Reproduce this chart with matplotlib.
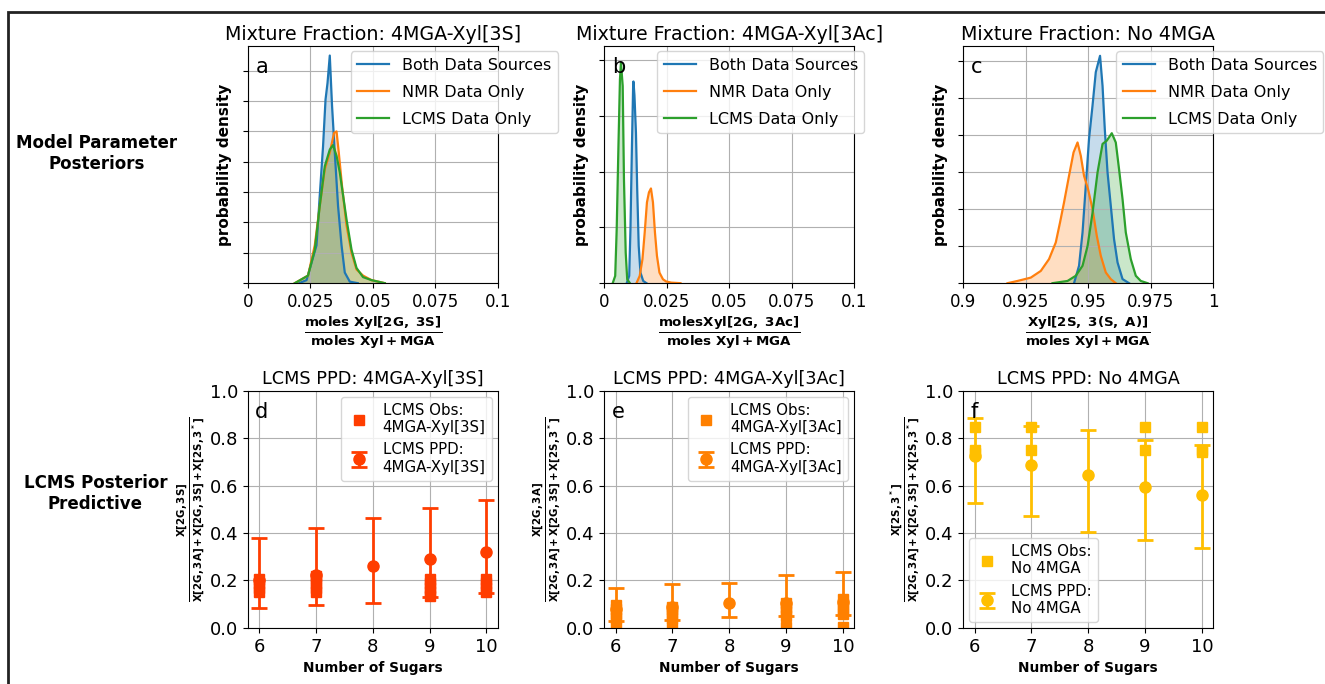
import numpy as np
import matplotlib.pyplot as plt
from matplotlib.patches import Rectangle

# ---- top row: posterior densities ----
a_both_x = [0.0205, 0.0235, 0.0275, 0.0288, 0.0301, 0.0311, 0.0319, 0.0328, 0.0337, 0.0348, 0.0361, 0.0375, 0.0388, 0.0408, 0.044]
a_both_y = [0, 2, 25, 58, 90, 121, 132, 150, 117, 86, 51, 25, 7, 1, 0]
a_nmr_x = [0.0188, 0.0241, 0.0268, 0.0288, 0.0308, 0.0328, 0.0345, 0.0355, 0.0364, 0.0377, 0.0395, 0.0415, 0.0435, 0.0461, 0.0495, 0.0548]
a_nmr_y = [0, 5, 25, 51, 75, 86, 99, 100, 86, 64, 38, 20, 9, 5, 2, 0]
a_lcms_x = [0.0188, 0.0241, 0.0268, 0.0288, 0.0308, 0.0328, 0.0341, 0.0355, 0.0368, 0.0381, 0.0395, 0.0415, 0.0435, 0.0461, 0.0495, 0.0548]
a_lcms_y = [0, 5, 22, 51, 77, 88, 91, 84, 73, 58, 42, 22, 10, 4, 2, 0]

b_both_x = [0.009, 0.010, 0.0105, 0.0111, 0.0116, 0.0117, 0.0121, 0.0127, 0.0132, 0.0138, 0.0145, 0.0156, 0.0169]
b_both_y = [0, 13, 97, 247, 360, 362, 337, 270, 169, 67, 19, 4, 0]
b_nmr_x = [0.0129, 0.0142, 0.0153, 0.0162, 0.0171, 0.0179, 0.0187, 0.0195, 0.0203, 0.0211, 0.0221, 0.0235, 0.0248, 0.0268, 0.0305]
b_nmr_y = [0, 13, 43, 91, 145, 163, 170, 145, 91, 49, 19, 7, 3, 1, 0]
b_lcms_x = [0.0034, 0.0044, 0.0050, 0.0057, 0.0063, 0.0067, 0.0074, 0.0079, 0.0086, 0.0092, 0.0103]
b_lcms_y = [0, 13, 97, 247, 366, 396, 354, 187, 55, 7, 0]

c_both_x = [0.9443, 0.9463, 0.9477, 0.949, 0.9503, 0.9517, 0.953, 0.9547, 0.9557, 0.9566, 0.9577, 0.959, 0.9603, 0.9617, 0.9637, 0.9663]
c_both_y = [0, 4.7, 13.7, 26.3, 39, 48, 57, 61.4, 53.3, 41.6, 29.9, 20.9, 11.9, 5.6, 1.1, 0]
c_nmr_x = [0.9177, 0.9217, 0.927, 0.931, 0.9343, 0.937, 0.9387, 0.9403, 0.9423, 0.9441, 0.9457, 0.947, 0.9483, 0.9499, 0.9517, 0.9534, 0.955, 0.957, 0.959, 0.961]
c_nmr_y = [0, 0.6, 1.5, 3.3, 6.5, 11, 16.4, 21.8, 29, 35.3, 38, 34.4, 29, 25.4, 20, 12.8, 7.4, 2.9, 1.1, 0]
c_lcms_x = [0.9357, 0.9417, 0.945, 0.9477, 0.9497, 0.9517, 0.9537, 0.9557, 0.9574, 0.9594, 0.961, 0.9623, 0.9637, 0.965, 0.967, 0.969, 0.971, 0.9737]
c_lcms_y = [0, 0.6, 2, 4.7, 10, 19, 29.9, 37.6, 38.5, 40.5, 38, 30.8, 22.7, 13.7, 6.5, 2, 0.6, 0]

# ---- bottom row: LCMS posterior predictive ----
sugars = [6, 7, 8, 9, 10]
d_ppd_mean = [0.20, 0.225, 0.26, 0.29, 0.32]
d_ppd_lo = [0.085, 0.095, 0.105, 0.13, 0.145]
d_ppd_hi = [0.38, 0.42, 0.465, 0.505, 0.54]
d_obs = {6: [0.15, 0.17, 0.19, 0.205], 7: [0.15, 0.17, 0.19, 0.21, 0.22],
         9: [0.135, 0.15, 0.17, 0.19, 0.205], 10: [0.15, 0.17, 0.19, 0.205]}

e_ppd_mean = [0.08, 0.09, 0.105, 0.105, 0.11]
e_ppd_lo = [0.03, 0.035, 0.045, 0.05, 0.055]
e_ppd_hi = [0.17, 0.185, 0.19, 0.225, 0.235]
e_obs = {6: [0.005, 0.04, 0.06, 0.08, 0.095], 7: [0.005, 0.04, 0.06, 0.08, 0.09],
         9: [0.005, 0.05, 0.07, 0.09, 0.105], 10: [0.005, 0.06, 0.08, 0.10, 0.12]}

f_ppd_mean = [0.725, 0.685, 0.645, 0.595, 0.56]
f_ppd_lo = [0.525, 0.47, 0.405, 0.37, 0.335]
f_ppd_hi = [0.885, 0.85, 0.835, 0.79, 0.77]
f_obs = {6: [0.845, 0.75, 0.735], 7: [0.845, 0.75], 9: [0.845, 0.75], 10: [0.845, 0.75, 0.74]}

fig = plt.figure(figsize=(13.25, 6.84), dpi=100)
lefts = [0.187, 0.456, 0.727]
w = 0.1887
top_axes = [fig.add_axes([l, 0.586, w, 0.347]) for l in lefts]
bot_axes = [fig.add_axes([l, 0.082, w, 0.347]) for l in lefts]

# ---- top panels ----
top_data = [
    ((a_both_x, a_both_y), (a_nmr_x, a_nmr_y), (a_lcms_x, a_lcms_y)),
    ((b_both_x, b_both_y), (b_nmr_x, b_nmr_y), (b_lcms_x, b_lcms_y)),
    ((c_both_x, c_both_y), (c_nmr_x, c_nmr_y), (c_lcms_x, c_lcms_y)),
]
top_titles = ['Mixture Fraction: 4MGA-Xyl[3S]', 'Mixture Fraction: 4MGA-Xyl[3Ac]', 'Mixture Fraction: No 4MGA']
top_xlabels = [r'$\frac{\mathbf{moles\ Xyl[2G,\ 3S]}}{\mathbf{moles\ Xyl+MGA}}$',
               r'$\frac{\mathbf{molesXyl[2G,\ 3Ac]}}{\mathbf{moles\ Xyl+MGA}}$',
               r'$\frac{\mathbf{Xyl[2S,\ 3(S,\ A)]}}{\mathbf{moles\ Xyl+MGA}}$']
top_xticks = [[0, 0.025, 0.05, 0.075, 0.1], [0, 0.025, 0.05, 0.075, 0.1], [0.9, 0.925, 0.95, 0.975, 1.0]]
top_xticklabels = [['0', '0.025', '0.05', '0.075', '0.1'], ['0', '0.025', '0.05', '0.075', '0.1'],
                   ['0.9', '0.925', '0.95', '0.975', '1']]
top_ystep = [20, 100, 10]
top_ymax = [156.4, 426, 64.1]
top_leg_x = [0.40, 0.20, 0.60]
letters_top = ['a', 'b', 'c']
names = ['Both Data Sources', 'NMR Data Only', 'LCMS Data Only']
colors = ['tab:blue', 'tab:orange', 'tab:green']

for i, ax in enumerate(top_axes):
    for (xs, ys), nm, col in zip(top_data[i], names, colors):
        ax.plot(xs, ys, color=col, lw=1.6, label=nm)
        ax.fill_between(xs, ys, color=col, alpha=0.25, lw=0)
    ax.set_xlim(top_xticks[i][0], top_xticks[i][-1])
    ax.set_ylim(0, top_ymax[i])
    ax.set_xticks(top_xticks[i])
    ax.set_xticklabels(top_xticklabels[i], fontsize=12)
    ax.set_yticks(np.arange(0, top_ymax[i], top_ystep[i]))
    ax.set_yticklabels([])
    ax.grid(True)
    ax.set_title(top_titles[i], fontsize=13.7, pad=4)
    ax.set_ylabel('probability density', fontsize=11, fontweight='bold')
    ax.set_xlabel(top_xlabels[i], fontsize=13.8, labelpad=2)
    ax.text(0.03, 0.91, letters_top[i], transform=ax.transAxes, fontsize=15, va='center')
    ax.legend(loc='upper left', bbox_to_anchor=(top_leg_x[i], 0.99), fontsize=11.5,
              borderaxespad=0.2, labelspacing=0.75)

# ---- bottom panels ----
bot_sets = [
    (d_ppd_mean, d_ppd_lo, d_ppd_hi, d_obs, '#ff3d00', '4MGA-Xyl[3S]', 'upper right'),
    (e_ppd_mean, e_ppd_lo, e_ppd_hi, e_obs, '#ff8000', '4MGA-Xyl[3Ac]', 'upper right'),
    (f_ppd_mean, f_ppd_lo, f_ppd_hi, f_obs, '#ffbf00', 'No 4MGA', 'lower left'),
]
bot_titles = ['LCMS PPD: 4MGA-Xyl[3S]', 'LCMS PPD: 4MGA-Xyl[3Ac]', 'LCMS PPD: No 4MGA']
bot_ylabels = [r'$\frac{\mathbf{X[2G,3S]}}{\mathbf{X[2G,3A]+X[2G,3S]+X[2S,3^*]}}$',
               r'$\frac{\mathbf{X[2G,3A]}}{\mathbf{X[2G,3A]+X[2G,3S]+X[2S,3^*]}}$',
               r'$\frac{\mathbf{X[2S,3^*]}}{\mathbf{X[2G,3A]+X[2G,3S]+X[2S,3^*]}}$']
letters_bot = ['d', 'e', 'f']

for i, ax in enumerate(bot_axes):
    mean, lo, hi, obs, col, nm, loc = bot_sets[i]
    ox = [k for k in obs for v in obs[k]]
    oy = [v for k in obs for v in obs[k]]
    ax.plot(ox, oy, 's', color=col, ms=7, label='LCMS Obs:\n' + nm)
    err = [np.array(mean) - np.array(lo), np.array(hi) - np.array(mean)]
    ax.errorbar(sugars, mean, yerr=err, fmt='o', color=col, ms=8, lw=2,
                capsize=6, capthick=2, label='LCMS PPD:\n' + nm)
    ax.set_xlim(5.8, 10.2)
    ax.set_ylim(0, 1)
    ax.set_xticks(sugars)
    ax.set_yticks([0, 0.2, 0.4, 0.6, 0.8, 1.0])
    ax.tick_params(labelsize=13)
    ax.grid(True)
    ax.set_title(bot_titles[i], fontsize=12.7, pad=5)
    ax.set_xlabel('Number of Sugars', fontsize=9.8, fontweight='bold')
    ax.set_ylabel(bot_ylabels[i], fontsize=10.5, labelpad=2)
    ax.text(0.03, 0.91, letters_bot[i], transform=ax.transAxes, fontsize=15, va='center')
    ax.legend(loc=loc, fontsize=10.8, handlelength=1.6, borderaxespad=0.4)

fig.text(0.073, 0.776, 'Model Parameter\nPosteriors', ha='center', va='center',
         fontsize=12, fontweight='bold')
fig.text(0.072, 0.278, 'LCMS Posterior\nPredictive', ha='center', va='center',
         fontsize=12, fontweight='bold')

fig.add_artist(Rectangle((8 / 1325, -0.05), 1.1, 1.05 - 12 / 684, transform=fig.transFigure,
                         fill=False, lw=2, edgecolor='#222222'))

fig.savefig('out.png', dpi=100)
